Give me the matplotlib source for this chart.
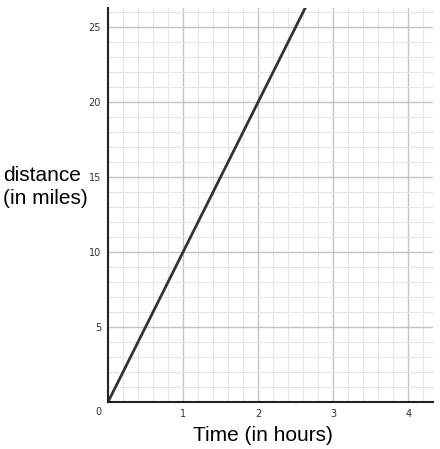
import matplotlib.pyplot as plt
from matplotlib.ticker import MultipleLocator

# line data (distance = 10 * time)
time_hours = [0, 2.7]
distance_miles = [0, 27]

x_ticks = [1, 2, 3, 4]
y_ticks = [5, 10, 15, 20, 25]

fig = plt.figure(figsize=(4.4, 4.49), dpi=100)
ax = fig.add_axes([0.2455, 0.1047, 0.7386, 0.8775])

ax.set_xlim(0, 4.33)
ax.set_ylim(0, 26.27)

ax.xaxis.set_minor_locator(MultipleLocator(0.2))
ax.yaxis.set_minor_locator(MultipleLocator(1))
ax.set_xticks(x_ticks)
ax.set_yticks(y_ticks)
ax.grid(which="major", color="#c4c4c4", linewidth=1)
ax.grid(which="minor", color="#e6e6e6", linewidth=0.8)
ax.set_axisbelow(True)

ax.plot(time_hours, distance_miles, color="#333333", linewidth=2, solid_capstyle="round")

for s in ["top", "right"]:
    ax.spines[s].set_visible(False)
for s in ["left", "bottom"]:
    ax.spines[s].set_color("#222222")
    ax.spines[s].set_linewidth(1.5)

ax.tick_params(which="both", length=0, labelsize=7, labelcolor="#333333", pad=5)
ax.text(-0.13, -0.35, "0", fontsize=7, color="#333333", ha="center", va="top")

fig.text(0.007, 0.583, "distance\n(in miles)", fontsize=15, ha="left", va="center",
         multialignment="left", linespacing=1.3, family="Liberation Sans")
fig.text(0.598, 0.03, "Time (in hours)", fontsize=15, ha="center", va="center",
         family="Liberation Sans")

fig.savefig("out.png", dpi=100)
